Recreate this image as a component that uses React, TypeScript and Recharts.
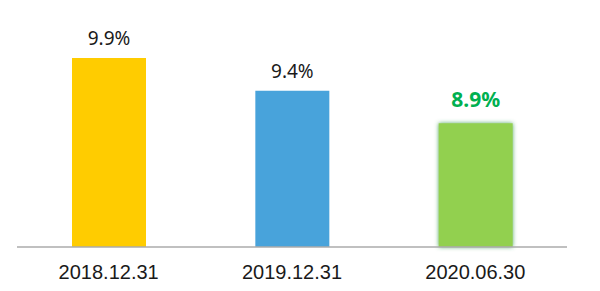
import React from 'react';
import { BarChart, Bar, XAxis, YAxis, Cell, LabelList } from 'recharts';

const categories = ['2018.12.31', '2019.12.31', '2020.06.30'];
const values = [9.9, 9.4, 8.9];
const valueLabels = ['9.9%', '9.4%', '8.9%'];
const barColors = ['#FFCC00', '#48A3DB', '#92D050'];
const labelColors = ['#1a1a1a', '#1a1a1a', '#00B050'];
const labelWeights = ['normal', 'normal', 'bold'];

const data = categories.map((c, i) => ({ name: c, value: values[i], label: valueLabels[i] }));

const renderLabel = (props: any) => {
  const { x, y, width, index } = props;
  const bold = labelWeights[index] === 'bold';
  return (
    <text
      x={Number(x) + Number(width) / 2}
      y={Number(y) - (bold ? 16 : 13)}
      textAnchor="middle"
      fill={labelColors[index]}
      fontFamily="'Noto Sans', sans-serif"
      fontSize={bold ? 21 : 19}
      fontWeight={bold ? 700 : 400}
    >
      {valueLabels[index]}
    </text>
  );
};

export default function App() {
  return (
    <div style={{ position: 'absolute', left: 0, top: 0, width: 600, height: 291, background: '#fff' }}>
      <BarChart width={600} height={291} data={data} margin={{ top: 19, right: 33, left: 17, bottom: 0 }}>
        <defs>
          <filter id="glow" x="-20%" y="-5%" width="140%" height="110%">
            <feDropShadow dx="0" dy="0" stdDeviation="2" floodColor="#3a9f55" floodOpacity="0.9" />
          </filter>
        </defs>
        <YAxis hide domain={[7, 10.5]} />
        <XAxis
          dataKey="name"
          height={44}
          tickSize={0}
          tickMargin={18}
          axisLine={{ stroke: '#ABABAB', strokeWidth: 1.5 }}
          tickLine={false}
          tick={{ fill: '#1a1a1a', fontSize: 20, fontFamily: "'Liberation Sans', Arial, sans-serif" }}
          interval={0}
        />
        <Bar dataKey="value" barSize={74} isAnimationActive={false}>
          {data.map((d, i) => (
            <Cell key={d.name} fill={barColors[i]} filter={i === 2 ? 'url(#glow)' : undefined} />
          ))}
          <LabelList dataKey="label" content={renderLabel} />
        </Bar>
      </BarChart>
    </div>
  );
}
